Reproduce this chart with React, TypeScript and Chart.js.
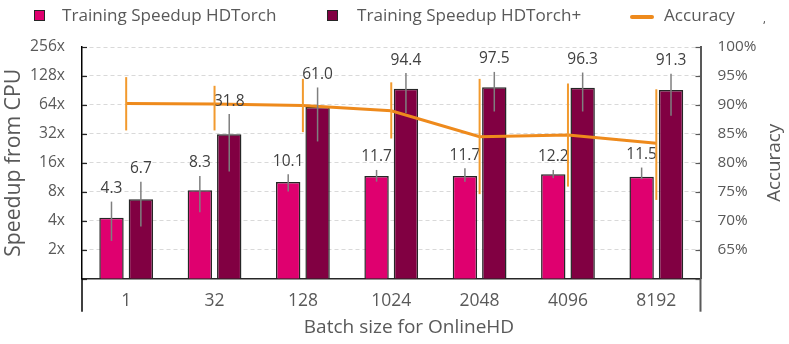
import React, { useEffect, useRef } from 'react';
import { Chart, registerables } from 'chart.js';

Chart.register(...registerables);

// ---------- data ----------
const categories = ['1', '32', '128', '1024', '2048', '4096', '8192'];

const hdtorch = [4.3, 8.3, 10.1, 11.7, 11.7, 12.2, 11.5];
const hdtorchLow = [2.47, 4.91, 8.04, 10.2, 10.2, 11.1, 10.8];
const hdtorchHigh = [6.33, 11.7, 12.2, 13.5, 14.1, 13.5, 14.3];

const hdtorchPlus = [6.7, 31.8, 61.0, 94.4, 97.5, 96.3, 91.3];
const hdtorchPlusLow = [3.48, 13.0, 26.7, 52.6, 54.7, 54.7, 49.4];
const hdtorchPlusHigh = [10.2, 51.4, 97.2, 137, 141, 139, 135];

const accuracy = [90.25, 90.15, 89.9, 89.0, 84.5, 84.8, 83.4];
const accuracyLow = [85.6, 85.6, 85.3, 84.2, 74.6, 75.9, 73.6];
const accuracyHigh = [94.8, 93.3, 94.5, 93.9, 94.5, 93.7, 92.7];

const speedupTicks = [1, 2, 4, 8, 16, 32, 64, 128, 256];
const accuracyTicks = [60, 65, 70, 75, 80, 85, 90, 95, 100];

const seriesNames = ['Training Speedup HDTorch', 'Training Speedup HDTorch+', 'Accuracy'];
const leftTitle = 'Speedup from CPU';
const rightTitle = 'Accuracy';
const xTitle = 'Batch size for OnlineHD';

// ---------- style ----------
const FONT = 'Open Sans';
const PINK = '#DF006F';
const MAROON = '#810042';
const ORANGE = '#EE8A1C';
const ORANGE_ERR = '#F29A2E';
const BAR_BORDER = '#262626';
const TEXT = '#595959';
const LABEL = '#404040';

// font size that makes `text` as wide as `target` px
function fitSize(text: string, target: number): number {
  const c = document.createElement('canvas').getContext('2d') as CanvasRenderingContext2D;
  c.font = `100px "${FONT}"`;
  const w = c.measureText(text).width || 100;
  return Math.round((1000 * target) / w) / 10;
}

const sizes: Record<string, number> = {};

const customPlugin = {
  id: 'customDraw',
  afterDatasetsDraw(chart: any) {
    const ctx = chart.ctx as CanvasRenderingContext2D;
    const yS = chart.scales.y;
    const y1S = chart.scales.y1;
    const area = chart.chartArea;
    ctx.save();

    // grey error bars + value labels
    const sets: [number, number[], number[], number[]][] = [
      [0, hdtorch, hdtorchLow, hdtorchHigh],
      [1, hdtorchPlus, hdtorchPlusLow, hdtorchPlusHigh],
    ];
    sets.forEach(([di, vals, lo, hi]) => {
      const meta = chart.getDatasetMeta(di);
      meta.data.forEach((el: any, j: number) => {
        const x = el.x;
        const yTop = yS.getPixelForValue(hi[j]);
        const yBot = yS.getPixelForValue(lo[j]);
        ctx.strokeStyle = '#7F7F7F';
        ctx.lineWidth = 1.5;
        ctx.beginPath();
        ctx.moveTo(x, yTop);
        ctx.lineTo(x, yBot);
        ctx.stroke();
        ctx.fillStyle = LABEL;
        ctx.font = `${sizes.label}px "${FONT}"`;
        ctx.textAlign = 'center';
        ctx.textBaseline = 'middle';
        ctx.fillText(vals[j].toFixed(1), x, yTop - 13);
      });
    });

    // orange accuracy error bars
    const lineMeta = chart.getDatasetMeta(2);
    lineMeta.data.forEach((pt: any, j: number) => {
      const x = pt.x;
      ctx.strokeStyle = ORANGE_ERR;
      ctx.lineWidth = 2;
      ctx.beginPath();
      ctx.moveTo(x, y1S.getPixelForValue(accuracyHigh[j]));
      ctx.lineTo(x, y1S.getPixelForValue(accuracyLow[j]));
      ctx.stroke();
    });

    // inside tick marks on the value axes
    ctx.lineWidth = 1.2;
    ctx.strokeStyle = '#262626';
    speedupTicks.forEach((v) => {
      const y = Math.round(yS.getPixelForValue(v)) + 0.5;
      ctx.beginPath();
      ctx.moveTo(area.left, y);
      ctx.lineTo(area.left + 5, y);
      ctx.stroke();
    });
    ctx.strokeStyle = '#595959';
    accuracyTicks.forEach((v) => {
      const y = Math.round(y1S.getPixelForValue(v)) + 0.5;
      ctx.beginPath();
      ctx.moveTo(area.right - 5, y);
      ctx.lineTo(area.right, y);
      ctx.stroke();
    });

    // axis lines extending below the category axis
    ctx.lineWidth = 1.5;
    ctx.strokeStyle = '#000000';
    ctx.beginPath();
    ctx.moveTo(area.left, area.bottom);
    ctx.lineTo(area.left, area.bottom + 33);
    ctx.stroke();
    ctx.lineWidth = 2;
    ctx.strokeStyle = '#595959';
    ctx.beginPath();
    ctx.moveTo(area.right, area.bottom);
    ctx.lineTo(area.right, area.bottom + 33);
    ctx.stroke();

    ctx.restore();
  },
  afterDraw(chart: any) {
    const ctx = chart.ctx as CanvasRenderingContext2D;
    const area = chart.chartArea;
    const midY = (area.top + area.bottom) / 2;
    ctx.save();

    // legend
    ctx.font = `${sizes.legend}px "${FONT}"`;
    ctx.textBaseline = 'middle';
    ctx.textAlign = 'left';
    ctx.fillStyle = PINK;
    ctx.fillRect(34, 10, 10, 10);
    ctx.strokeStyle = BAR_BORDER;
    ctx.lineWidth = 1;
    ctx.strokeRect(34.5, 10.5, 10, 10);
    ctx.fillStyle = TEXT;
    ctx.fillText(seriesNames[0], 62, 16);

    ctx.fillStyle = MAROON;
    ctx.fillRect(327, 10, 10, 10);
    ctx.strokeRect(327.5, 10.5, 10, 10);
    ctx.fillStyle = TEXT;
    ctx.fillText(seriesNames[1], 357, 16);

    ctx.strokeStyle = ORANGE;
    ctx.lineWidth = 4;
    ctx.lineCap = 'round';
    ctx.beginPath();
    ctx.moveTo(632, 17);
    ctx.lineTo(652, 17);
    ctx.stroke();
    ctx.fillStyle = TEXT;
    ctx.fillText(seriesNames[2], 664, 16);

    // stray mark
    ctx.font = `11px "${FONT}"`;
    ctx.fillStyle = '#333333';
    ctx.fillText(',', 763, 20);

    // axis titles
    ctx.fillStyle = TEXT;
    ctx.textAlign = 'center';
    ctx.textBaseline = 'middle';
    ctx.font = `${sizes.leftTitle}px "${FONT}"`;
    ctx.save();
    ctx.translate(14, midY);
    ctx.rotate(-Math.PI / 2);
    ctx.fillText(leftTitle, 0, 0);
    ctx.restore();

    ctx.font = `${sizes.rightTitle}px "${FONT}"`;
    ctx.save();
    ctx.translate(775, midY);
    ctx.rotate(-Math.PI / 2);
    ctx.fillText(rightTitle, 0, 0);
    ctx.restore();

    ctx.font = `${sizes.xTitle}px "${FONT}"`;
    ctx.fillText(xTitle, 409, 328);

    ctx.restore();
  },
};

export default function App() {
  const canvasRef = useRef<HTMLCanvasElement | null>(null);

  useEffect(() => {
    document.body.style.margin = '0';
    const canvas = canvasRef.current;
    if (!canvas) return;

    sizes.legend = fitSize(seriesNames[0], 214);
    sizes.leftTitle = fitSize(leftTitle, 188);
    sizes.rightTitle = fitSize(rightTitle, 78);
    sizes.xTitle = fitSize(xTitle, 210);
    sizes.label = fitSize('94.4', 30.7);
    sizes.yTick = fitSize('256x', 35);
    sizes.y1Tick = fitSize('100%', 39);
    sizes.xTick = fitSize('1024', 40);

    const chart = new Chart(canvas, {
      type: 'bar',
      data: {
        labels: categories,
        datasets: [
          {
            type: 'bar',
            label: seriesNames[0],
            data: hdtorch,
            yAxisID: 'y',
            backgroundColor: PINK,
            borderColor: BAR_BORDER,
            borderWidth: 1.5,
            categoryPercentage: 0.665,
            barPercentage: 0.83,
            order: 2,
          },
          {
            type: 'bar',
            label: seriesNames[1],
            data: hdtorchPlus,
            yAxisID: 'y',
            backgroundColor: MAROON,
            borderColor: BAR_BORDER,
            borderWidth: 1.5,
            categoryPercentage: 0.665,
            barPercentage: 0.83,
            order: 2,
          },
          {
            type: 'line',
            label: seriesNames[2],
            data: accuracy,
            yAxisID: 'y1',
            borderColor: ORANGE,
            backgroundColor: ORANGE,
            borderWidth: 3,
            pointRadius: 0,
            tension: 0,
            order: 0,
          },
        ],
      } as any,
      options: {
        responsive: false,
        animation: false,
        devicePixelRatio: 1,
        layout: { padding: { top: 47, left: 0, right: 0, bottom: 0 } },
        plugins: {
          legend: { display: false },
          tooltip: { enabled: false },
        },
        scales: {
          x: {
            type: 'category',
            grid: { display: false, drawTicks: false },
            border: { display: true, color: '#262626', width: 1.5 },
            ticks: {
              color: TEXT,
              font: { family: FONT, size: sizes.xTick },
              padding: 12,
              maxRotation: 0,
            },
            afterFit: (s: any) => {
              s.height = 65.3;
            },
          },
          y: {
            type: 'logarithmic',
            position: 'left',
            min: 1,
            max: 256,
            afterBuildTicks: (s: any) => {
              s.ticks = speedupTicks.map((v) => ({ value: v }));
            },
            ticks: {
              color: TEXT,
              font: { family: FONT, size: sizes.yTick },
              padding: 17,
              callback: (v: any) => (Number(v) === 1 ? '' : `${v}x`),
            },
            grid: { color: '#D9D9D9', lineWidth: 1, drawTicks: false },
            border: { display: true, color: '#000000', width: 1.5, dash: [4, 3] },
            afterFit: (s: any) => {
              s.width = 82;
            },
          },
          y1: {
            type: 'linear',
            position: 'right',
            min: 60,
            max: 100,
            afterBuildTicks: (s: any) => {
              s.ticks = accuracyTicks.map((v) => ({ value: v }));
            },
            ticks: {
              color: TEXT,
              font: { family: FONT, size: sizes.y1Tick },
              padding: 17,
              callback: (v: any) => (Number(v) === 60 ? '' : `${v}%`),
            },
            grid: { drawOnChartArea: false, drawTicks: false },
            border: { display: true, color: '#595959', width: 2 },
            afterFit: (s: any) => {
              s.width = 88.5;
            },
          },
        },
      } as any,
      plugins: [customPlugin],
    });

    return () => {
      chart.destroy();
    };
  }, []);

  return (
    <div style={{ width: 789, height: 344 }}>
      <canvas ref={canvasRef} width={789} height={344} style={{ display: 'block' }} />
    </div>
  );
}
